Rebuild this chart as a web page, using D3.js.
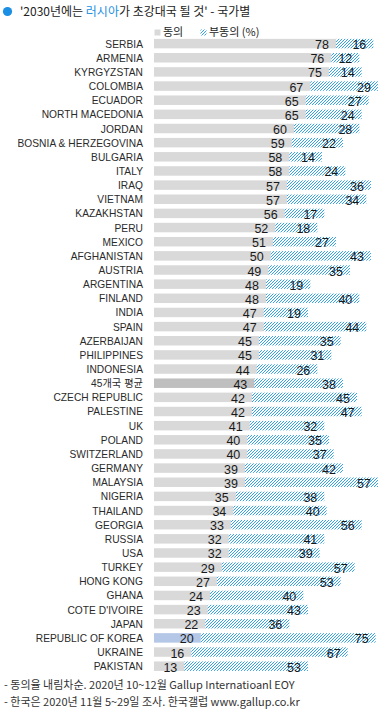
<!DOCTYPE html>
<html>
<head>
<meta charset="utf-8">
<script src="https://cdn.jsdelivr.net/npm/d3@7"></script>
<style>
  body { margin: 0; background: #fff; }
  svg { display: block; }
  text { font-family: "Noto Sans CJK KR", "Noto Sans", sans-serif; fill: #222; }
  .label { font-family: "Liberation Sans", "Noto Sans CJK KR", sans-serif; font-size: 10.2px; text-anchor: end; letter-spacing: 0.05px; fill: #2a2a2a; }
  .val { font-family: "Liberation Sans", sans-serif; font-size: 12.5px; text-anchor: end; fill: #1a1a1a; }
  .foot { font-size: 11px; fill: #333; }
</style>
</head>
<body>
<svg id="chart"></svg>
<script>
const width = 385, height = 713

const countries = ["SERBIA", "ARMENIA", "KYRGYZSTAN", "COLOMBIA", "ECUADOR", "NORTH MACEDONIA", "JORDAN",
  "BOSNIA & HERZEGOVINA", "BULGARIA", "ITALY", "IRAQ", "VIETNAM", "KAZAKHSTAN", "PERU", "MEXICO",
  "AFGHANISTAN", "AUSTRIA", "ARGENTINA", "FINLAND", "INDIA", "SPAIN", "AZERBAIJAN", "PHILIPPINES",
  "INDONESIA", "45개국 평균", "CZECH REPUBLIC", "PALESTINE", "UK", "POLAND", "SWITZERLAND", "GERMANY",
  "MALAYSIA", "NIGERIA", "THAILAND", "GEORGIA", "RUSSIA", "USA", "TURKEY", "HONG KONG", "GHANA",
  "COTE D'IVOIRE", "JAPAN", "REPUBLIC OF KOREA", "UKRAINE", "PAKISTAN"]
const agree = [78, 76, 75, 67, 65, 65, 60, 59, 58, 58, 57, 57, 56, 52, 51, 50, 49, 48, 48, 47, 47, 45, 45,
  44, 43, 42, 42, 41, 40, 40, 39, 39, 35, 34, 33, 32, 32, 29, 27, 24, 23, 22, 20, 16, 13]
const disagree = [16, 12, 14, 29, 27, 24, 28, 22, 14, 24, 36, 34, 17, 18, 27, 43, 35, 19, 40, 19, 44, 35, 31,
  26, 38, 45, 47, 32, 35, 37, 42, 57, 38, 40, 56, 41, 39, 57, 53, 40, 43, 36, 75, 67, 53]

const avgName = "45개국 평균"
const koreaName = "REPUBLIC OF KOREA"

const rows = countries.map((c, i) => ({ name: c, agree: agree[i], disagree: disagree[i] }))

const svg = d3.select("#chart")
  .attr("width", width)
  .attr("height", height)

// hatch pattern
const defs = svg.append("defs")
const pat = defs.append("pattern")
  .attr("id", "hatch")
  .attr("patternUnits", "userSpaceOnUse")
  .attr("width", 3)
  .attr("height", 3)
pat.append("path")
  .attr("d", "M-1,1 l2,-2 M0,3 l3,-3 M2,4 l2,-2")
  .attr("stroke", "#1a98ea")
  .attr("stroke-width", 0.9)

const x = d3.scaleLinear()
  .domain([0, 100])
  .range([154, 387.3])

const y = d3.scaleBand()
  .domain(countries)
  .range([36.6, 673.2])
  .paddingInner(0.33)
  .paddingOuter(0.16)

// title
svg.append("circle")
  .attr("cx", 7.5)
  .attr("cy", 11.5)
  .attr("r", 4.6)
  .attr("fill", "#1a8fe3")

const title = svg.append("text")
  .attr("x", 20)
  .attr("y", 16)
  .style("font-size", "12px")
title.append("tspan").text("'2030년에는 ")
title.append("tspan").text("러시아").style("fill", "#1a8fe3")
title.append("tspan").text("가 초강대국 될 것' - 국가별")

// legend
svg.append("rect")
  .attr("x", 154.5).attr("y", 29.5)
  .attr("width", 6).attr("height", 6)
  .attr("fill", "#d9d9d9")
svg.append("text")
  .attr("x", 163).attr("y", 35.5)
  .style("font-size", "11px")
  .text("동의")
svg.append("rect")
  .attr("x", 200.5).attr("y", 29.5)
  .attr("width", 6).attr("height", 6)
  .attr("fill", "url(#hatch)")
svg.append("text")
  .attr("x", 209).attr("y", 35.5)
  .style("font-size", "11px")
  .text("부동의 (%)")

const g = svg.append("g")

g.selectAll("rect.agree")
  .data(rows)
  .enter()
    .append("rect")
    .attr("class", "agree")
    .attr("x", x(0))
    .attr("y", d => y(d.name))
    .attr("width", d => x(d.agree) - x(0))
    .attr("height", y.bandwidth())
    .attr("fill", function(d){
      if (d.name == avgName) { return "#bfbfbf" }
      else if (d.name == koreaName) { return "#b4c7e7" }
      else { return "#d9d9d9" }
    })

g.selectAll("rect.disagree")
  .data(rows)
  .enter()
    .append("rect")
    .attr("class", "disagree")
    .attr("x", d => x(d.agree))
    .attr("y", d => y(d.name))
    .attr("width", d => x(d.agree + d.disagree) - x(d.agree))
    .attr("height", y.bandwidth())
    .attr("fill", "url(#hatch)")

g.selectAll("text.label")
  .data(rows)
  .enter()
    .append("text")
    .attr("class", "label")
    .attr("x", 143)
    .attr("y", d => y(d.name) + y.bandwidth() / 2 + 4)
    .text(d => d.name)

g.selectAll("text.va")
  .data(rows)
  .enter()
    .append("text")
    .attr("class", "val")
    .attr("x", d => x(d.agree) - 7)
    .attr("y", d => y(d.name) + y.bandwidth() / 2 + 5.5)
    .text(d => d.agree)

g.selectAll("text.vd")
  .data(rows)
  .enter()
    .append("text")
    .attr("class", "val")
    .attr("x", d => x(d.agree + d.disagree) - 7)
    .attr("y", d => y(d.name) + y.bandwidth() / 2 + 5.5)
    .text(d => d.disagree)

// footer
svg.append("text")
  .attr("class", "foot")
  .attr("x", 4).attr("y", 689)
  .text("- 동의율 내림차순. 2020년 10~12월 Gallup Internatioanl EOY")
svg.append("text")
  .attr("class", "foot")
  .attr("x", 4).attr("y", 706)
  .text("- 한국은 2020년 11월 5~29일 조사. 한국갤럽 www.gallup.co.kr")
</script>
</body>
</html>
